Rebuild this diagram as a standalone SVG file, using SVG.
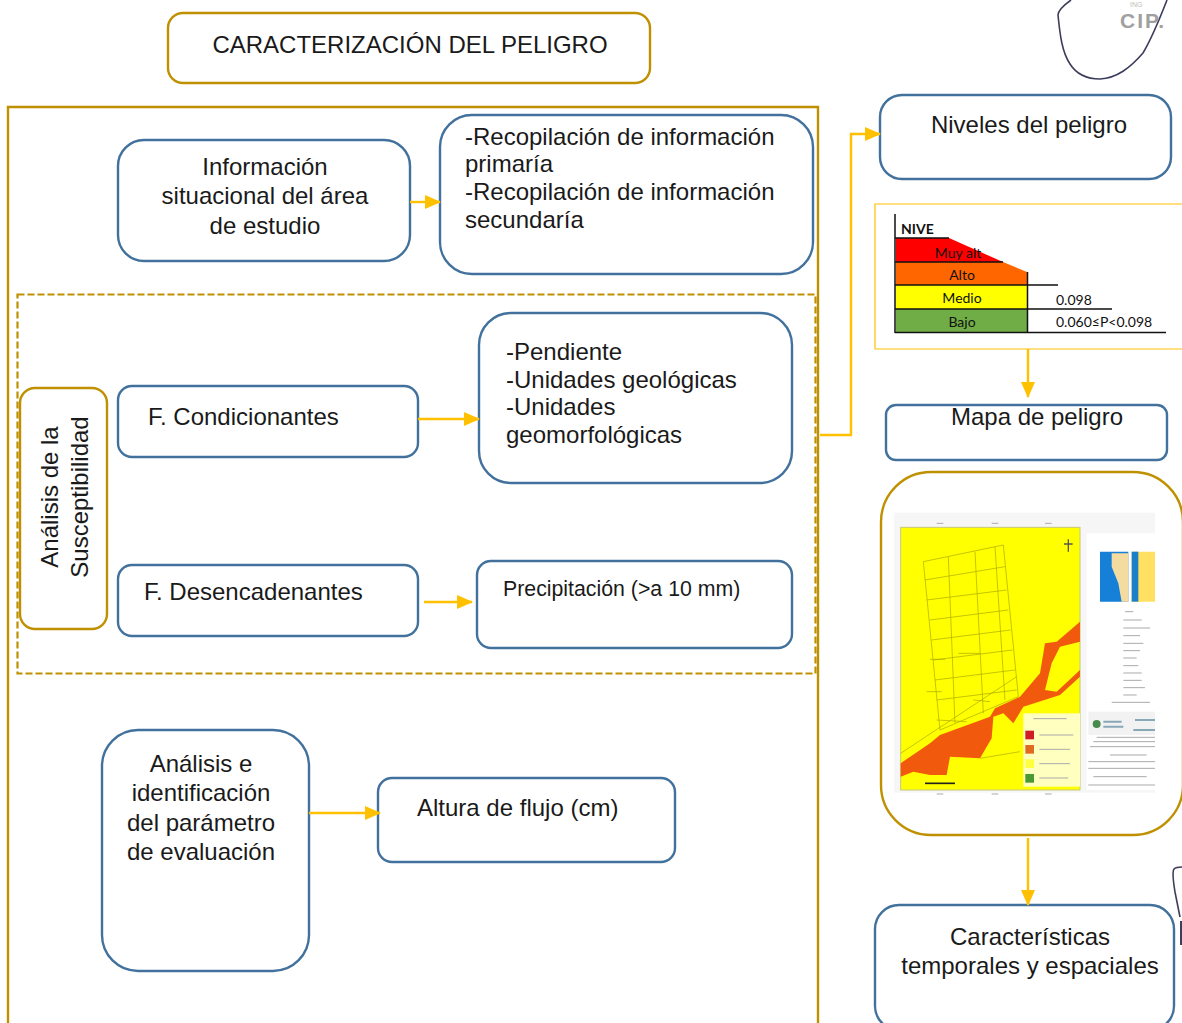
<svg xmlns="http://www.w3.org/2000/svg" width="1182" height="1023" viewBox="0 0 1182 1023">
<style>
text{font-family:"Liberation Sans",Arial,sans-serif;font-size:24px;fill:#1a1a1a}
.c{text-anchor:middle}
.b{fill:#fff;stroke:#41719c;stroke-width:2.4}
.g{fill:#fff;stroke:#bf9000;stroke-width:2.4}
.a{fill:none;stroke:#ffc000;stroke-width:2.4}
.t{font-family:Lato,"Open Sans",sans-serif;font-size:14px;fill:#111}
.k{stroke:#111;stroke-width:1.5;fill:none}
.m{fill:none;stroke:#a8a800;stroke-width:2}
.l{fill:none;stroke:#aaa;stroke-width:3}
</style>
<defs>
<marker id="h" markerWidth="16" markerHeight="14" refX="15" refY="7" orient="auto" markerUnits="userSpaceOnUse"><path d="M0 0L16 7L0 14Z" fill="#ffc000"/></marker>
<filter id="bl" x="-5%" y="-5%" width="110%" height="110%"><feGaussianBlur stdDeviation="2"/></filter>
</defs>
<rect width="1182" height="1023" fill="#fff"/>

<g id="sello" fill="none" stroke="#3d3d5c" stroke-width="1.6">
<path d="M1071 0C1064 5 1058 10 1058 15C1060 35 1062 52 1070 64C1077 75 1088 79 1100 79C1117 78 1130 68 1143 53C1152 38 1160 18 1167 0"/>
<text x="1130" y="7" style="font-size:7px;fill:#bdbdbd;stroke:none">ING</text>
<text x="1120" y="28" style="font-size:21px;font-weight:bold;fill:#a0a0a0;stroke:none;letter-spacing:2px">CIP.</text>
<path d="M1180 917L1175 892C1173 880 1172 872 1174 869C1176 867 1180 867 1182 867"/>
<path d="M1181 921V945" stroke-width="2"/>
</g>

<g id="titulo"><rect class="g" x="168" y="13" width="482" height="70" rx="15"/><text class="c" x="410" y="53">CARACTERIZACIÓN DEL PELIGRO</text></g>

<g id="marco"><path d="M8 1023V107H818V1023" fill="none" stroke="#bf9000" stroke-width="2.4"/></g>
<g id="marco-susceptibilidad"><rect x="17.500" y="294.500" width="798" height="379" fill="none" stroke="#bf9000" stroke-width="2.2" stroke-dasharray="7 3"/></g>

<g id="informacion"><rect class="b" x="118" y="140" width="292" height="121" rx="26"/>
<text class="c" x="265" y="175">Información</text><text class="c" x="265" y="204">situacional del área</text><text class="c" x="265" y="234">de estudio</text></g>
<g id="recopilacion"><rect class="b" x="440" y="115" width="373" height="159" rx="32"/>
<text x="465" y="145">-Recopilación de información</text><text x="465" y="172">primaría</text><text x="465" y="200">-Recopilación de información</text><text x="465" y="228">secundaría</text></g>

<g id="analisis-susceptibilidad"><rect class="g" x="20" y="388" width="87" height="241" rx="15"/>
<text class="c" transform="translate(58 497) rotate(-90)">Análisis de la</text><text class="c" transform="translate(88 497) rotate(-90)">Susceptibilidad</text></g>
<g id="condicionantes"><rect class="b" x="118" y="386" width="300" height="71" rx="14"/><text x="148" y="425">F. Condicionantes</text></g>
<g id="factores"><rect class="b" x="479" y="313" width="313" height="170" rx="32"/>
<text x="506" y="360">-Pendiente</text><text x="506" y="388">-Unidades geológicas</text><text x="506" y="415">-Unidades</text><text x="506" y="443">geomorfológicas</text></g>
<g id="desencadenantes"><rect class="b" x="118" y="565" width="300" height="71" rx="14"/><text x="144" y="600">F. Desencadenantes</text></g>
<g id="precipitacion"><rect class="b" x="477" y="561" width="315" height="87" rx="14"/><text x="503" y="596" style="font-size:21.300px">Precipitación (&gt;a 10 mm)</text></g>

<g id="parametro"><rect class="b" x="102" y="730" width="207" height="241" rx="36"/>
<text class="c" x="201" y="772">Análisis e</text><text class="c" x="201" y="801">identificación</text><text class="c" x="201" y="831">del parámetro</text><text class="c" x="201" y="860">de evaluación</text></g>
<g id="altura"><rect class="b" x="378" y="778" width="297" height="84" rx="14"/><text x="417" y="816">Altura de flujo (cm)</text></g>

<g id="niveles"><rect class="b" x="880" y="95" width="291" height="84" rx="22"/><text class="c" x="1029" y="133">Niveles del peligro</text></g>

<g id="tabla-niveles">
<path d="M1182 204H875V349H1182" fill="#fff" stroke="#ffc000" stroke-width="1.2"/>
<path d="M896 238H949L1003 262H896Z" fill="#f00"/>
<path d="M896 262H1003L1027 272V285H896Z" fill="#ff6600"/>
<rect x="896" y="285" width="131" height="24" fill="#ff0"/>
<rect x="896" y="309" width="131" height="23" fill="#70ad47"/>
<path class="k" d="M895 214V333M895 238H949M895 262H1003M895 285H1058M895 309H1112M895 332.500H1166M1027.500 272V332"/>
<text class="t" x="901" y="234" style="font-weight:bold">NIVE</text>
<text class="t c" x="958" y="258">Muy alt</text>
<text class="t c" x="962" y="280">Alto</text>
<text class="t c" x="962" y="303">Medio</text>
<text class="t c" x="962" y="327">Bajo</text>
<text class="t" x="1056" y="305">0.098</text>
<text class="t" x="1056" y="327">0.060≤P&lt;0.098</text>
</g>

<g id="mapa-peligro"><rect class="b" x="886" y="405" width="281" height="55" rx="10"/><text class="c" x="1037" y="425">Mapa de peligro</text></g>

<g id="mapa">
<rect class="g" x="881" y="472" width="302" height="363" rx="50"/>
<g transform="translate(880 500) scale(.33333)">
<rect x="42" y="38" width="783" height="840" fill="#f6f6f6"/>
<g filter="url(#bl)">
<rect x="62" y="82" width="538" height="788" fill="#ff0" stroke="#c8c878" stroke-width="3"/>
<path class="m" d="M130 185L370 135L415 590L180 690ZM135 240L375 200M140 300L380 270M150 360L385 330M155 420L392 390M160 480L398 450M165 540L405 510M170 600L410 570M205 170L225 670M285 155L310 640M345 140L375 600M62 760L410 530"/>
<path class="m" d="M300 775L420 755M280 600L330 605M170 660L260 665M150 478H195M140 575H185M235 460H300" stroke-width="3"/>
<path d="M565 118V155M552 132H578" stroke="#555" stroke-width="4" fill="none"/>
<path d="M62 790L150 730L180 705L330 650L345 625L420 590L480 520L495 430L530 425L600 365V425L540 440L515 490L495 570L530 575L600 510V530L540 585L430 620L400 670L370 640L340 650L335 715L300 775L210 770L200 825L150 825L100 815L62 830Z" fill="#f15a0c"/>
<rect x="430" y="640" width="170" height="220" fill="#ffffc0"/>
<rect x="436" y="692" width="26" height="26" fill="#d01c28"/>
<rect x="436" y="735" width="26" height="26" fill="#e06a20"/>
<rect x="436" y="778" width="26" height="26" fill="#ffff40"/>
<rect x="436" y="822" width="26" height="26" fill="#4a9a30"/>
<path class="l" d="M460 656H560M478 705H580M478 748H570M478 791H570M478 834H565"/>
<rect x="620" y="100" width="205" height="770" fill="#fff"/>
<path d="M660 155H745V305H660Z" fill="#1580d8"/>
<path d="M695 160H745V305H725L715 250L695 200Z" fill="#f4dca0"/>
<path d="M755 155H825V305H755Z" fill="#ffe060"/>
<path d="M755 155H775V305H755Z" fill="#1a80c8"/>
<path class="l" d="M735 335H760M730 360H785M730 384H810M730 407H780M730 430H790M730 452H780M730 474H770M730 497H775M730 519H785M730 541H785M730 563H795M730 585H770M695 607H810"/>
<rect x="625" y="635" width="200" height="70" fill="#f2f2f2"/>
<circle cx="650" cy="672" r="12" fill="#4a8a50"/>
<path d="M670 665H725M670 680H730M765 660H825M760 690H825" stroke="#88a8b8" stroke-width="6" fill="none"/>
<path class="l" d="M650 712H825M640 725H825M630 740H825M690 765H800M625 785H825M625 805H825M640 830H800M625 855H825"/>
<path class="l" d="M170 70H190M335 70H355M495 70H515M170 882H190M335 882H355M495 882H515"/>
<path d="M135 850H225" stroke="#222" stroke-width="5" fill="none"/>
</g>
</g>
</g>

<g id="caracteristicas"><rect class="b" x="875" y="905" width="299" height="125" rx="24"/>
<text class="c" x="1030" y="945">Características</text><text class="c" x="1030" y="974">temporales y espaciales</text></g>

<g id="conectores">
<path class="a" d="M410 202H440" marker-end="url(#h)"/>
<path class="a" d="M418 419H479" marker-end="url(#h)"/>
<path class="a" d="M424 602H472" marker-end="url(#h)"/>
<path class="a" d="M309 813H380" marker-end="url(#h)"/>
<path class="a" d="M820 435H851V134H880" marker-end="url(#h)"/>
<path class="a" d="M1028 349V397" marker-end="url(#h)"/>
<path class="a" d="M1028 838V905" marker-end="url(#h)"/>
</g>
</svg>
